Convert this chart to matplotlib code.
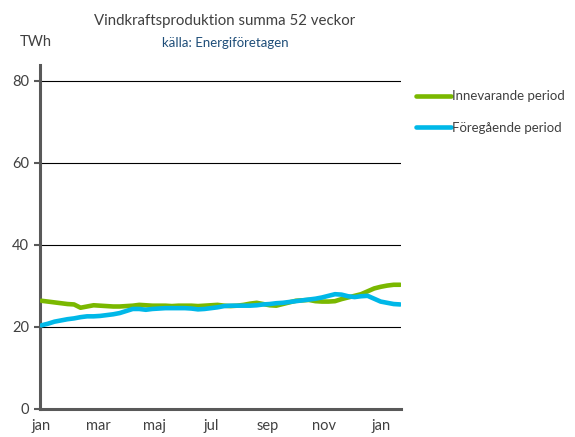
"""
Vindkraftsproduktion, rullande summa 52 veckor (TWh).
"""
import numpy as np
import matplotlib.pyplot as plt

manader = ["jan", "mar", "maj", "jul", "sep", "nov", "jan"]
manad_pos = [0, 2, 4, 6, 8, 10, 12]

innevarande = [26.4, 26.2, 26.0, 25.8, 25.6, 25.5, 24.7, 25.0, 25.3, 25.2,
               25.1, 25.0, 25.0, 25.1, 25.2, 25.4, 25.3, 25.2, 25.2, 25.2,
               25.1, 25.2, 25.2, 25.2, 25.1, 25.2, 25.3, 25.4, 25.2, 25.1,
               25.2, 25.4, 25.7, 25.9, 25.6, 25.3, 25.2, 25.6, 26.0, 26.4,
               26.5, 26.6, 26.3, 26.2, 26.2, 26.3, 26.8, 27.2, 27.6, 28.0,
               28.7, 29.4, 29.8, 30.1, 30.3, 30.3]

foregaende = [20.4, 20.8, 21.3, 21.6, 21.9, 22.1, 22.4, 22.6, 22.6, 22.7,
              22.9, 23.1, 23.4, 23.9, 24.4, 24.4, 24.2, 24.4, 24.5, 24.6,
              24.6, 24.6, 24.6, 24.5, 24.3, 24.4, 24.6, 24.8, 25.1, 25.2,
              25.2, 25.2, 25.2, 25.3, 25.5, 25.6, 25.8, 25.9, 26.1, 26.3,
              26.5, 26.7, 26.9, 27.2, 27.6, 28.0, 27.9, 27.5, 27.3, 27.5,
              27.6, 26.9, 26.2, 25.9, 25.6, 25.5]

# veckor omräknade till månader
x = np.arange(len(innevarande)) * 12 / 52

plt.rcParams["font.family"] = ["Lato", "DejaVu Sans"]

fig = plt.figure(figsize=(5.75, 4.37), dpi=100)
ax = fig.add_axes([40 / 575, 1 - 409 / 437, 361 / 575, (409 - 65) / 437])

gron = "#7AB800"
bla = "#00B8E8"
ax.plot(x, innevarande, color=gron, lw=3.3, label="Innevarande period",
        solid_capstyle="round", zorder=3)
ax.plot(x, foregaende, color=bla, lw=3.3, label="Föregående period",
        solid_capstyle="round", zorder=3)

ax.set_xlim(-0.05, 12.72)
ax.set_ylim(0, 83.9)
ax.set_yticks([0, 20, 40, 60, 80])
ax.set_xticks(manad_pos)
ax.set_xticklabels(manader)
ax.grid(axis="y", color="black", lw=0.8)
ax.set_axisbelow(True)

for s in ["top", "right"]:
    ax.spines[s].set_visible(False)
for s in ["left", "bottom"]:
    ax.spines[s].set_color("#595959")
    ax.spines[s].set_linewidth(2.2)

ax.tick_params(axis="y", length=4, width=1.5, color="#595959",
               labelsize=10.5, labelcolor="#404040", pad=4)
ax.tick_params(axis="x", length=0, labelsize=10.5, labelcolor="#404040", pad=7)

fig.text(20 / 575, 1 - 42 / 437, "TWh", fontsize=10.5, color="#404040",
         va="center", ha="left")
fig.text(225 / 575, 1 - 21 / 437, "Vindkraftsproduktion summa 52 veckor",
         fontsize=10.8, color="#404040", ha="center", va="center")
fig.text(225 / 575, 1 - 43 / 437, "källa: Energiföretagen",
         fontsize=9.5, color="#1F4E79", ha="center", va="center")

fig.legend(loc="upper left", bbox_to_anchor=(411 / 575, 1 - 85 / 437),
           frameon=False, fontsize=9.5, handlelength=2.6, handletextpad=0.1,
           borderaxespad=0, borderpad=0.4, labelspacing=1.5,
           labelcolor="#404040")

fig.savefig("out.png", dpi=100)
